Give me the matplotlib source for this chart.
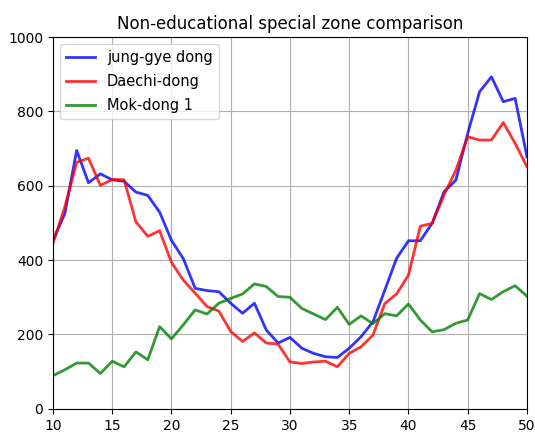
import numpy as np
import matplotlib.pyplot as plt

# x axis: 10 .. 50
x = np.arange(10, 51)

jung_gye = [453, 525, 695, 608, 632, 616, 612, 583, 574, 529,
            453, 404, 324, 318, 315, 284, 257, 284, 212, 177,
            192, 163, 149, 140, 138, 163, 194, 234, 319, 405,
            452, 452, 499, 584, 615, 741, 853, 893, 826, 835,
            678]
daechi = [445, 543, 663, 674, 601, 617, 616, 503, 464, 479,
          394, 346, 311, 275, 263, 208, 181, 204, 177, 174,
          126, 122, 126, 128, 113, 149, 167, 198, 283, 309,
          360, 491, 499, 575, 642, 732, 723, 723, 770, 714,
          651]
mokdong = [89, 105, 123, 123, 95, 128, 113, 153, 132, 221,
           188, 226, 266, 255, 284, 297, 309, 336, 329, 302,
           300, 270, 255, 240, 273, 227, 250, 229, 256, 250,
           282, 239, 207, 213, 230, 239, 310, 294, 315, 331,
           303]

fig = plt.figure(figsize=(5.35, 4.41), dpi=100)
ax = fig.add_axes([0.099, 0.073, 0.886, 0.843])

ax.plot(x, jung_gye, color='b', alpha=0.8, lw=2, label='jung-gye dong')
ax.plot(x, daechi, color='r', alpha=0.8, lw=2, label='Daechi-dong')
ax.plot(x, mokdong, color='g', alpha=0.8, lw=2, label='Mok-dong 1')

ax.set_xlim(10, 50)
ax.set_ylim(0, 1000)
ax.set_title('Non-educational special zone comparison', fontsize=12)
ax.grid(True)
ax.legend(loc='upper left', fontsize=10.5, labelspacing=0.6)

fig.savefig('out.png', dpi=100)
